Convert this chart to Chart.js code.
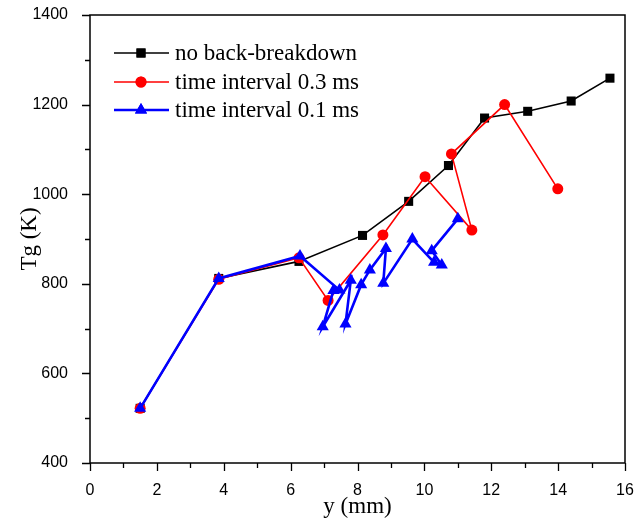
<!DOCTYPE html>
<html>
<head>
<meta charset="utf-8">
<script src="https://cdn.jsdelivr.net/npm/chart.js@4.4.1/dist/chart.umd.min.js"></script>
<style>
  html, body { margin: 0; padding: 0; background: #fff; }
  #wrap { width: 634px; height: 523px; }
</style>
</head>
<body>
<div id="wrap"><canvas id="c" width="634" height="523"></canvas></div>
<script>
// Gas temperature along the discharge axis
const seriesNames = ['no back-breakdown', 'time interval 0.3 ms', 'time interval 0.1 ms'];

const yNoBack = [1.5, 3.85, 6.25, 8.15, 9.53, 10.72, 11.8, 13.09, 14.39, 15.55];
const tgNoBack = [522, 812, 850, 908, 984, 1064, 1170, 1185, 1208, 1259];

const yInt03 = [1.5, 3.85, 6.25, 7.12, 8.76, 10.02, 11.42, 10.81, 12.4, 13.99];
const tgInt03 = [522, 810, 858, 763, 909, 1039, 920, 1090, 1200, 1012];

const yInt01 = [1.5, 3.85, 6.28, 7.46, 7.28, 6.96, 7.8, 7.64, 8.11, 8.37, 8.85, 8.77, 9.64, 10.29, 10.52, 10.22, 11.0];
const tgInt01 = [522, 812, 862, 786, 785, 704, 808, 710, 798, 831, 879, 801, 900, 848, 842, 874, 945];

const xTicks = [0, 2, 4, 6, 8, 10, 12, 14, 16];
const yTicks = [400, 600, 800, 1000, 1200, 1400];

function pts(xs, ys) { return xs.map((x, i) => ({ x: x, y: ys[i] })); }

const datasets = [
  { label: seriesNames[0], data: pts(yNoBack, tgNoBack), borderColor: '#000000', backgroundColor: '#000000',
    borderWidth: 1.6, pointStyle: 'rect', pointRadius: 6.4, pointBorderWidth: 0, order: 3 },
  { label: seriesNames[1], data: pts(yInt03, tgInt03), borderColor: '#ff0000', backgroundColor: '#ff0000',
    borderWidth: 1.6, pointStyle: 'circle', pointRadius: 5.5, pointBorderWidth: 0, order: 2 },
  { label: seriesNames[2], data: pts(yInt01, tgInt01), borderColor: '#0000ff', backgroundColor: '#0000ff',
    borderWidth: 2.6, pointStyle: 'triangle', pointRadius: 7, pointBorderWidth: 0, order: 1 }
];

// Frame around the plot area plus outward major/minor ticks on the left and bottom axes
const framePlugin = {
  id: 'frame',
  afterDraw(chart) {
    const { ctx, chartArea: a, scales } = chart;
    ctx.save();
    ctx.strokeStyle = '#000';
    ctx.lineWidth = 1.5;
    ctx.strokeRect(a.left, a.top, a.right - a.left, a.bottom - a.top);
    ctx.lineWidth = 1.3;
    ctx.beginPath();
    for (let v = scales.x.min; v <= scales.x.max; v += 1) {
      const px = Math.round(scales.x.getPixelForValue(v)) + 0.5;
      const len = (v % 2 === 0) ? 8 : 5;
      ctx.moveTo(px, a.bottom);
      ctx.lineTo(px, a.bottom + len);
    }
    for (let v = scales.y.min; v <= scales.y.max; v += 100) {
      const py = Math.round(scales.y.getPixelForValue(v)) + 0.5;
      const len = (v % 200 === 0) ? 8 : 5;
      ctx.moveTo(a.left, py);
      ctx.lineTo(a.left - len, py);
    }
    ctx.stroke();
    ctx.restore();
  }
};

// Legend box drawn inside the plot area
const legendPlugin = {
  id: 'innerLegend',
  afterDraw(chart) {
    const { ctx } = chart;
    const rows = [53, 82, 110];
    ctx.save();
    chart.data.datasets.forEach((ds, r) => {
      const y = rows[r];
      ctx.strokeStyle = ds.borderColor;
      ctx.lineWidth = ds.borderWidth;
      ctx.beginPath();
      ctx.moveTo(114, y);
      ctx.lineTo(169, y);
      ctx.stroke();
      ctx.fillStyle = ds.backgroundColor;
      Chart.helpers.drawPoint(ctx, { pointStyle: ds.pointStyle, radius: ds.pointRadius, borderWidth: 0, rotation: 0 }, 141, y);
      ctx.fill();
      ctx.fillStyle = '#000';
      ctx.font = '23px "Liberation Serif", "Times New Roman", serif';
      ctx.textBaseline = 'middle';
      ctx.textAlign = 'left';
      ctx.fillText(ds.label, 175, y + 1);
    });
    ctx.restore();
  }
};

const tickFont = { family: '"Liberation Sans", Arial, sans-serif', size: 16 };
const titleFont = { family: '"Liberation Serif", "Times New Roman", serif', size: 23 };

new Chart(document.getElementById('c'), {
  type: 'scatter',
  data: { datasets: datasets },
  options: {
    responsive: false,
    animation: false,
    showLine: true,
    layout: { padding: { top: 15, right: 9, left: 0, bottom: 0 } },
    plugins: { legend: { display: false }, tooltip: { enabled: false } },
    elements: { line: { tension: 0 } },
    scales: {
      x: {
        type: 'linear', min: 0, max: 16,
        afterBuildTicks(s) { s.ticks = xTicks.map(v => ({ value: v })); },
        afterFit(s) { s.height = 60; s.paddingLeft = 0; s.paddingRight = 0; },
        grid: { display: false },
        border: { display: false },
        ticks: { color: '#000', padding: 10, font: tickFont, callback: v => String(v) },
        title: { display: true, text: 'y (mm)', color: '#000', padding: { top: 0, bottom: 2 }, font: titleFont }
      },
      y: {
        type: 'linear', min: 400, max: 1400,
        afterBuildTicks(s) { s.ticks = yTicks.map(v => ({ value: v })); },
        afterFit(s) { s.width = 90; s.paddingTop = 0; s.paddingBottom = 0; },
        grid: { display: false },
        border: { display: false },
        ticks: { color: '#000', padding: 14, font: tickFont, callback: v => String(v) },
        title: { display: true, text: 'Tg (K)', color: '#000', padding: { top: 16, bottom: 0 }, font: titleFont }
      }
    }
  },
  plugins: [framePlugin, legendPlugin]
});
</script>
</body>
</html>
